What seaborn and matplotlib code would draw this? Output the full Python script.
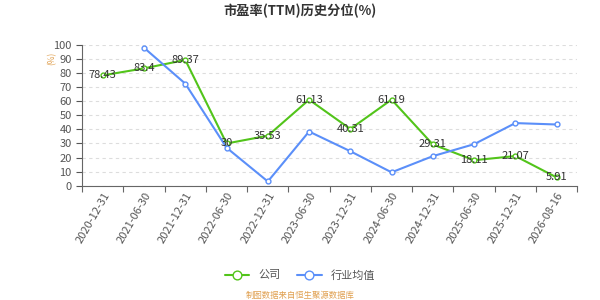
import matplotlib
matplotlib.use("Agg")
import matplotlib.pyplot as plt
import seaborn as sns
import numpy as np
import pandas as pd

dates = ["2020-12-31", "2021-06-30", "2021-12-31", "2022-06-30", "2022-12-31", "2023-06-30",
         "2023-12-31", "2024-06-30", "2024-12-31", "2025-06-30", "2025-12-31", "2026-08-16"]
company = [78.43, 83.4, 89.37, 30, 35.53, 61.13, 40.31, 61.19, 29.31, 18.11, 21.07, 5.91]
industry = [np.nan, 98.0, 72.5, 27.0, 3.0, 38.5, 24.5, 9.5, 21.0, 29.5, 44.5, 43.5]

sns.set_theme(style="white")
plt.rcParams['font.family'] = ['Noto Sans CJK SC', 'DejaVu Sans']

green = "#52c41a"
blue = "#5b8ff9"

fig = plt.figure(figsize=(6, 3), dpi=100)
ax = fig.add_axes([0.137, 0.381, 0.825, 0.469])

df = pd.DataFrame({"idx": np.arange(len(dates)), "公司": company, "行业均值": industry})

sns.lineplot(data=df, x="idx", y="公司", ax=ax, color=green, lw=1.5,
             marker="o", markersize=3.5, markerfacecolor="white", markeredgecolor=green,
             markeredgewidth=1, label="公司")
sns.lineplot(data=df, x="idx", y="行业均值", ax=ax, color=blue, lw=1.5,
             marker="o", markersize=3.5, markerfacecolor="white", markeredgecolor=blue,
             markeredgewidth=1, label="行业均值")

for i, v in enumerate(company):
    ax.text(i, v, f"{v:g}", ha="center", va="center", fontsize=8, color="#333333")

ax.set_xlim(-0.5, len(dates) - 0.5)
ax.set_ylim(0, 100)
ax.set_yticks(range(0, 101, 10))
ax.set_xticks(np.arange(len(dates)))
ax.set_xticklabels(dates, rotation=60, ha="right", rotation_mode="anchor", fontsize=8, color="#555555")
ax.tick_params(axis="y", labelsize=8, colors="#555555", length=4, width=0.8, left=True)
ax.tick_params(axis="x", length=4, width=0.8, bottom=True, colors="#555555")

ax.set_xticks(np.arange(len(dates) + 1) - 0.5, minor=True)
ax.tick_params(axis="x", which="minor", length=4, width=0.8, bottom=True, color="#666666")
ax.tick_params(axis="x", which="major", length=0)

ax.yaxis.grid(True, linestyle=(0, (3, 3)), color="#dddddd", lw=0.8)
ax.xaxis.grid(False)
ax.set_xlabel("")
ax.set_ylabel("")
for s in ["top", "right"]:
    ax.spines[s].set_visible(False)
for s in ["left", "bottom"]:
    ax.spines[s].set_color("#666666")
    ax.spines[s].set_linewidth(0.8)

ax.legend_.remove()
handles, labels = ax.get_legend_handles_labels()
fig.legend(handles, labels, loc="center", bbox_to_anchor=(0.5, 0.083), ncol=2, frameon=False,
           fontsize=8, handlelength=2.2, columnspacing=1.5, labelcolor="#555555", markerscale=1.8)

fig.text(0.5, 0.965, "市盈率(TTM)历史分位(%)", ha="center", va="center", fontsize=9.5,
         fontweight="bold", color="#333333")
fig.text(0.087, 0.805, "(%)", ha="center", va="center", fontsize=6, rotation=90, color="#e0a050")
fig.text(0.5, 0.015, "制图数据来自恒生聚源数据库", ha="center", va="center", fontsize=6, color="#e0a050")

fig.savefig("out.png", dpi=100)
